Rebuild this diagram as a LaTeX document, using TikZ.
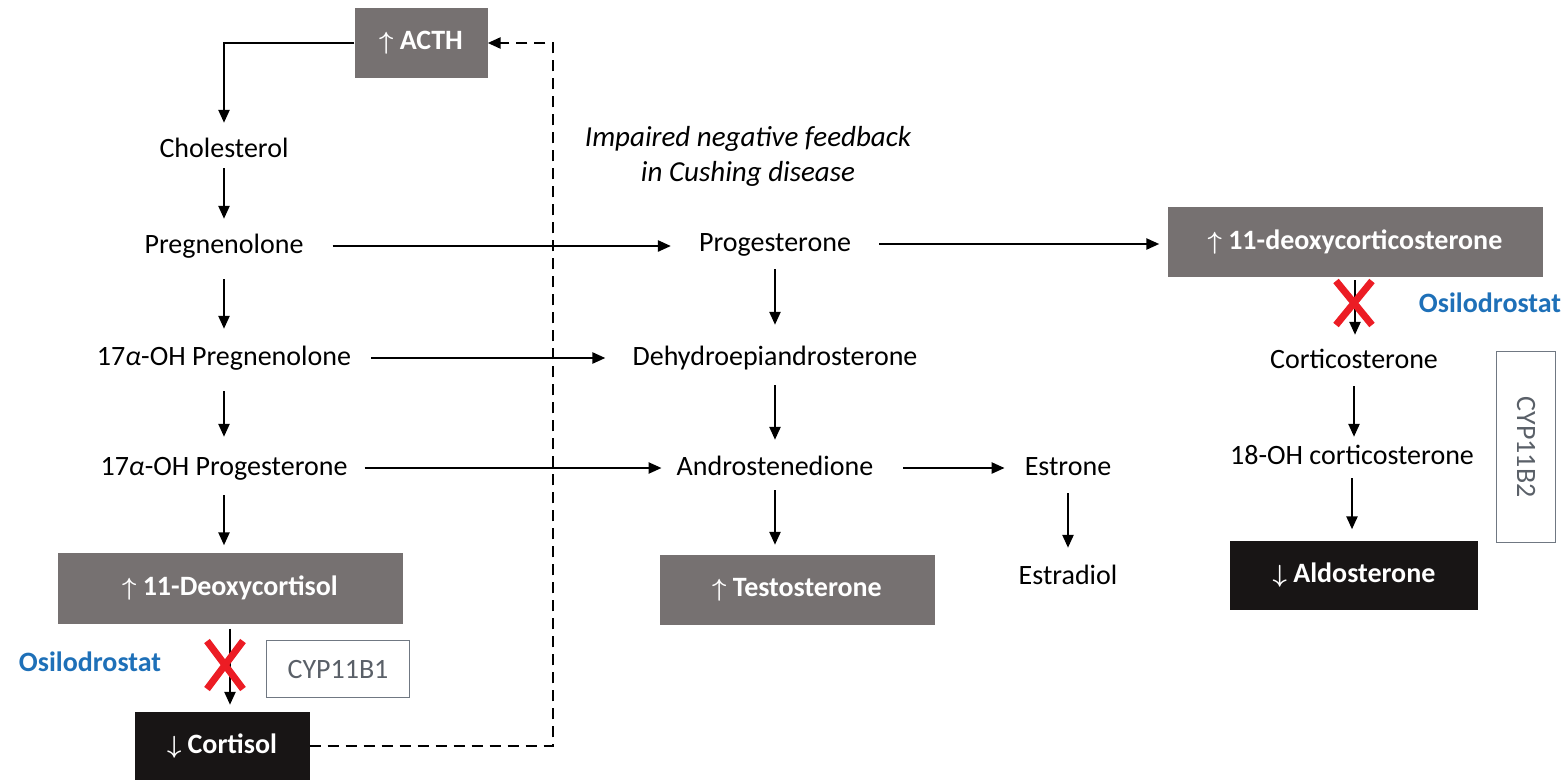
\documentclass[tikz,border=0pt]{standalone}
\usepackage{fontspec}
\setmainfont{Carlito}
\usetikzlibrary{arrows.meta}
\definecolor{boxgrey}{RGB}{118,113,113}
\definecolor{boxblack}{RGB}{24,21,21}
\definecolor{drugblue}{RGB}{30,112,184}
\definecolor{cypgrey}{RGB}{112,120,130}
\definecolor{xred}{RGB}{236,28,36}
\begin{document}
\begin{tikzpicture}[x=1pt, y=-1pt, font=\fontsize{28}{32}\selectfont,
    met/.style={inner sep=0, text height=20pt, text depth=6pt},
    greybox/.style={fill=boxgrey, text=white, font=\fontsize{28}{32}\selectfont\bfseries\boldmath,
      inner sep=0},
    darkbox/.style={greybox, fill=boxblack},
    cypbox/.style={draw=cypgrey, line width=1.3pt, text=cypgrey!80!black, inner sep=0},
    drug/.style={text=drugblue, font=\fontsize{28}{32}\selectfont\bfseries},
    flow/.style={line width=2.4pt, -{Triangle[length=13pt,width=11pt]}},
    xmark/.style={xred, line width=7pt}]
  \useasboundingbox (0,0) rectangle (1567,780);
  \foreach \n/\x/\y/\t in {chol/224/150/Cholesterol, preg/224/246/Pregnenolone,
      ohpreg/224/358/{17\textit{α}-OH Pregnenolone}, ohprog/224/468/{17\textit{α}-OH Progesterone},
      prog/775/244/Progesterone, dhea/775/358/Dehydroepiandrosterone,
      andro/775/468/Androstenedione, estrone/1068/468/Estrone, estradiol/1068/577/Estradiol,
      cort/1354/361/Corticosterone, ohcort/1352/457/{18-OH corticosterone}} {
    \node[met] (\n) at (\x,\y) {\t};
  }
  \node[greybox, minimum width=133pt, minimum height=70pt] (acth) at (421,43) {$\uparrow$ ACTH};
  \node[greybox, minimum width=345pt, minimum height=71pt] (deoxy) at (230,588)
    {$\uparrow$ 11-Deoxycortisol};
  \node[darkbox, minimum width=175pt, minimum height=68pt] (cortisol) at (222,746)
    {$\downarrow$ Cortisol};
  \node[greybox, minimum width=275pt, minimum height=70pt] (testo) at (797,590)
    {$\uparrow$ Testosterone};
  \node[greybox, minimum width=375pt, minimum height=70pt] (doc) at (1355,242)
    {$\uparrow$ 11-deoxycorticosterone};
  \node[darkbox, minimum width=248pt, minimum height=69pt] (aldo) at (1354,575)
    {$\downarrow$ Aldosterone};
  \node[cypbox, minimum width=143pt, minimum height=57pt] (cypa) at (338,669) {CYP11B1};
  \node[cypbox, minimum width=191pt, minimum height=59pt, rotate=-90] (cypb) at (1526,447)
    {CYP11B2};
  \node[drug] (druga) at (90,662) {Osilodrostat};
  \node[drug] (drugb) at (1490,303) {Osilodrostat};
  \node[font=\fontsize{29}{35}\selectfont\itshape, align=center] (note) at (748,156)
    {Impaired negative feedback\\ in Cushing disease};
  \coordinate (fb) at (553,746);
  \draw[line width=2.6pt, dash pattern=on 11pt off 7pt, -{Triangle[length=13pt,width=11pt]}]
    (cortisol.east) -- (fb) |- (acth.east);
  \draw[flow, shorten >=14pt] (acth.west) -| (chol.north);
  \foreach \a/\b/\s/\e in {chol/preg/5/14, preg/ohpreg/20/16, ohpreg/ohprog/20/18,
      ohprog/deoxy/14/7, deoxy/cortisol/5/7, prog/dhea/12/20, dhea/andro/14/15,
      andro/testo/9/10, estrone/estradiol/12/16, doc/cort/3/13, cort/ohcort/12/7,
      ohcort/aldo/8/11} {
    \draw[flow, shorten <=\s pt, shorten >=\e pt] (\a.south) -- (\a.south |- \b.north);
  }
  \foreach \a/\b/\s/\e in {preg/prog/29/28, ohpreg/dhea/20/27, ohprog/andro/17/15,
      andro/estrone/30/20, prog/doc/28/8} {
    \draw[flow, shorten <=\s pt, shorten >=\e pt] (\a.east) -- (\a.east -| \b.west);
  }
  \draw[xmark] (225,665) +(-18,-24) -- +(18,24) +(-18,24) -- +(18,-24);
  \draw[xmark] (1354,303) +(-18,-22) -- +(18,22) +(-18,22) -- +(18,-22);
\end{tikzpicture}
\end{document}
